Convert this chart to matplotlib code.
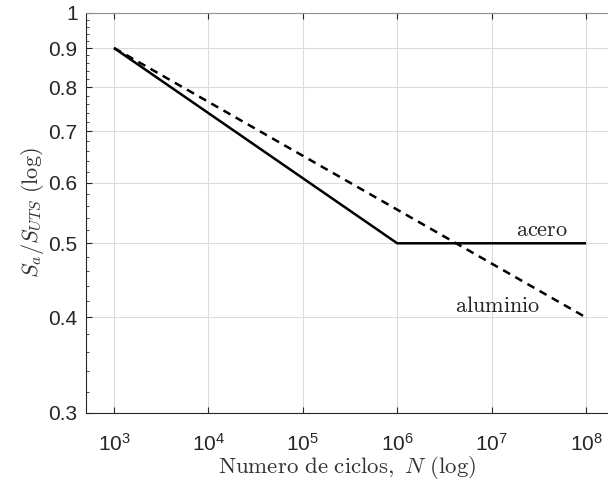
import numpy as np
import matplotlib
matplotlib.use("Agg")
import matplotlib.pyplot as plt
from matplotlib.ticker import FixedLocator, NullFormatter

plt.rcParams['mathtext.fontset'] = 'cm'
plt.rcParams['font.family'] = ['Liberation Sans', 'DejaVu Sans']

N_acero = [1e3, 1e6, 1e8]
S_acero = [0.9, 0.5, 0.5]
N_alum = [1e3, 1e8]
S_alum = [0.9, 0.4]
y_ticks = [0.3, 0.4, 0.5, 0.6, 0.7, 0.8, 0.9, 1.0]
y_ticklabels = ['0.3', '0.4', '0.5', '0.6', '0.7', '0.8', '0.9', '1']
x_ticks = [1e3, 1e4, 1e5, 1e6, 1e7, 1e8]

fig = plt.figure(figsize=(6.08, 4.88), dpi=100)
ax = fig.add_axes([86/608, 75/488, 1 - 86/608, (413-13)/488])
ax.set_xscale('log')
ax.set_yscale('log')
ax.plot(N_acero, S_acero, color='black', lw=1.8, solid_capstyle='butt')
ax.plot(N_alum, S_alum, color='black', lw=1.8, ls=(0, (3.2, 2.4)))

ax.set_xlim(10**2.703, 10**8.233)
ax.set_ylim(0.3, 1.0)

ax.xaxis.set_major_locator(FixedLocator(x_ticks))
ax.xaxis.set_minor_locator(FixedLocator([]))
ax.set_xticks(x_ticks)
ax.set_xticklabels([r'$\mathregular{10^{%d}}$' % int(np.log10(v)) for v in x_ticks])
ax.yaxis.set_major_locator(FixedLocator(y_ticks))
ax.set_yticklabels(y_ticklabels)
minors = [v for v in np.round(np.arange(0.30, 1.0001, 0.02), 2) if v not in y_ticks]
ax.yaxis.set_minor_locator(FixedLocator(minors))
ax.yaxis.set_minor_formatter(NullFormatter())

ax.grid(True, which='major', color='#dcdcdc', lw=0.8)
ax.set_axisbelow(True)
ax.tick_params(which='both', direction='in', top=True, right=False,
               labelsize=15, colors='#262626', length=4.5)
ax.tick_params(which='minor', length=2.5)
ax.tick_params(axis='x', pad=14)
ax.tick_params(axis='y', pad=6)
for s in ['left', 'bottom']:
    ax.spines[s].set_color('#262626')
ax.spines['top'].set_color('#909090')
ax.spines['right'].set_visible(False)

ax.set_xlabel(r'$\mathrm{Numero\ de\ ciclos,}\ N\ \mathrm{(log)}$', fontsize=16.5, color='#333333', labelpad=0)
ax.set_ylabel(r'$S_a/S_{UTS}\ \mathrm{(log)}$', fontsize=16, color='#333333', labelpad=2)

ax.text(3.42e7, 0.511, r'$\mathrm{acero}$', fontsize=16, ha='center', va='baseline', color='#222222')
ax.text(1.17e7, 0.4065, r'$\mathrm{aluminio}$', fontsize=16, ha='center', va='baseline', color='#222222')

fig.savefig('out.png', dpi=100)
